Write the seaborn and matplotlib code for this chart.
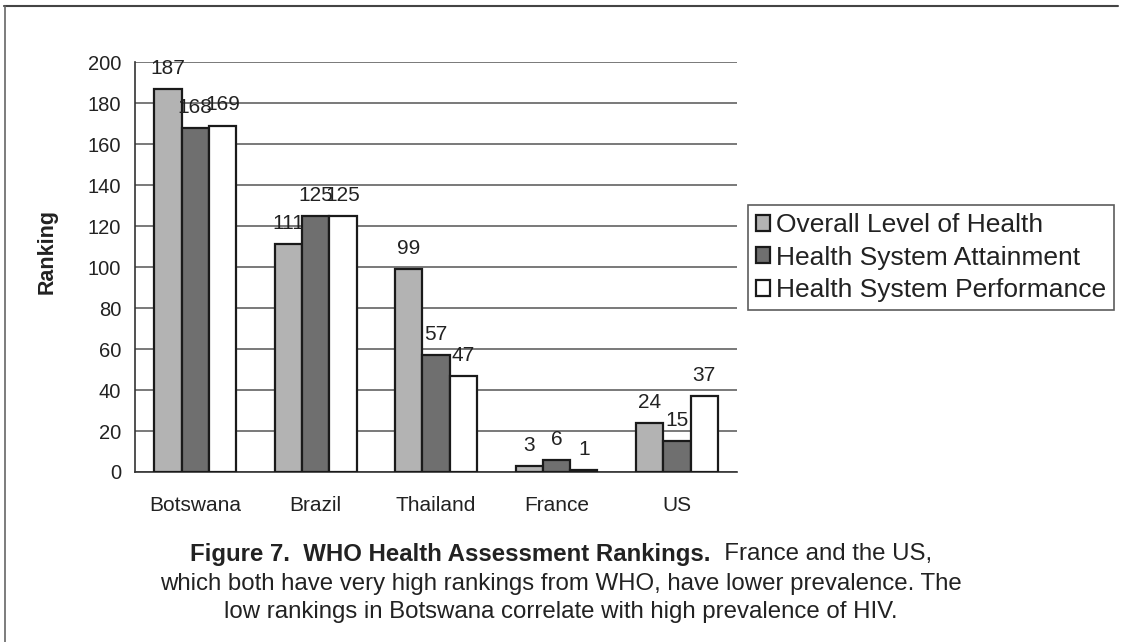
import matplotlib
matplotlib.use("Agg")
import matplotlib.pyplot as plt
from matplotlib.lines import Line2D
from matplotlib.font_manager import fontManager
import seaborn as sns
import pandas as pd
import numpy as np

countries = ["Botswana", "Brazil", "Thailand", "France", "US"]
measures = ["Overall Level of Health", "Health System Attainment", "Health System Performance"]
overall_level = [187, 111, 99, 3, 24]
attainment = [168, 125, 57, 6, 15]
performance = [169, 125, 47, 1, 37]
y_ticks = [0, 20, 40, 60, 80, 100, 120, 140, 160, 180, 200]

caption_bold = "Figure 7.  WHO Health Assessment Rankings."
caption_rest = "  France and the US,"
caption_line2 = "which both have very high rankings from WHO, have lower prevalence. The"
caption_line3 = "low rankings in Botswana correlate with high prevalence of HIV."

df = pd.DataFrame({
    "country": countries * 3,
    "measure": [measures[0]] * 5 + [measures[1]] * 5 + [measures[2]] * 5,
    "rank": overall_level + attainment + performance,
})

sns.set_theme(style="white")
names = {f.name for f in fontManager.ttflist}
plt.rcParams["font.family"] = ["Liberation Sans", "DejaVu Sans"]
narrow = "Liberation Sans Narrow" if "Liberation Sans Narrow" in names else "Liberation Sans"

fig = plt.figure(figsize=(11.22, 6.42), dpi=100)
ax = fig.add_axes([0.1203, 0.2648, 0.5367, 0.6386])

palette = {measures[0]: "#b3b3b3", measures[1]: "#6f6f6f", measures[2]: "#ffffff"}
sns.barplot(data=df, x="country", y="rank", hue="measure", palette=palette,
            width=0.68, gap=0, edgecolor="#1a1a1a", linewidth=1.6,
            saturation=1, ax=ax, zorder=3)

for cont in ax.containers:
    ax.bar_label(cont, fmt="%d", padding=8, fontsize=15, color="#222222")

ax.set_ylim(0, 200)
ax.set_xlim(-0.5, 4.5)
ax.set_yticks(y_ticks)
ax.set_yticklabels([str(v) for v in y_ticks], fontsize=14.5, color="#222222")
ax.yaxis.grid(True, color="#555555", linewidth=1.1)
ax.set_axisbelow(True)
ax.tick_params(axis="y", direction="inout", length=12, width=1.1, color="#333333", pad=4)

ax.set_xticks(range(len(countries)))
ax.set_xticklabels(countries, fontsize=15, color="#222222")
ax.tick_params(axis="x", which="major", length=0, pad=17)
ax.set_xticks(np.arange(-0.5, len(countries), 1.0), minor=True)
ax.tick_params(axis="x", which="minor", direction="out", length=7, width=1.1, color="#333333")

for side in ("top", "right"):
    ax.spines[side].set_visible(False)
for side in ("left", "bottom"):
    ax.spines[side].set_color("#333333")
    ax.spines[side].set_linewidth(1.2)

ax.set_xlabel("")
ax.set_ylabel("Ranking", fontsize=15.5, fontweight="bold", color="#222222")
ax.yaxis.set_label_coords(-0.128, 0.537)

handles, labels = ax.get_legend_handles_labels()
leg = ax.legend(handles, labels, loc="upper left", bbox_to_anchor=(1.018, 0.651),
                fontsize=19, frameon=True, fancybox=False, borderaxespad=0,
                handlelength=0.55, handleheight=0.55, handletextpad=0.2,
                labelspacing=0.33, borderpad=0.3, title=None)
leg.get_frame().set_edgecolor("#333333")
leg.get_frame().set_linewidth(1.2)
for t in leg.get_texts():
    t.set_color("#222222")

# caption beneath the chart
fig.canvas.draw()
renderer = fig.canvas.get_renderer()
cx = 0.5
t1 = fig.text(0, 0.137, caption_bold, fontsize=17.3, fontweight="bold", family=narrow,
              color="#222222", va="center", ha="left")
t2 = fig.text(0, 0.137, caption_rest, fontsize=17.3, family=narrow,
              color="#222222", va="center", ha="left")
w1 = t1.get_window_extent(renderer).width / fig.bbox.width
w2 = t2.get_window_extent(renderer).width / fig.bbox.width
start = cx - (w1 + w2) / 2
t1.set_x(start)
t2.set_x(start + w1)
fig.text(cx, 0.091, caption_line2, fontsize=17.3, family=narrow, color="#222222",
         va="center", ha="center")
fig.text(cx, 0.046, caption_line3, fontsize=17.3, family=narrow, color="#222222",
         va="center", ha="center")

# page frame lines
fig.add_artist(Line2D([0.004, 0.996], [0.991, 0.991], color="#444444", linewidth=1.5))
fig.add_artist(Line2D([0.0045, 0.0045], [0.0, 0.991], color="#666666", linewidth=1.2))

fig.savefig("out.png", dpi=100)
